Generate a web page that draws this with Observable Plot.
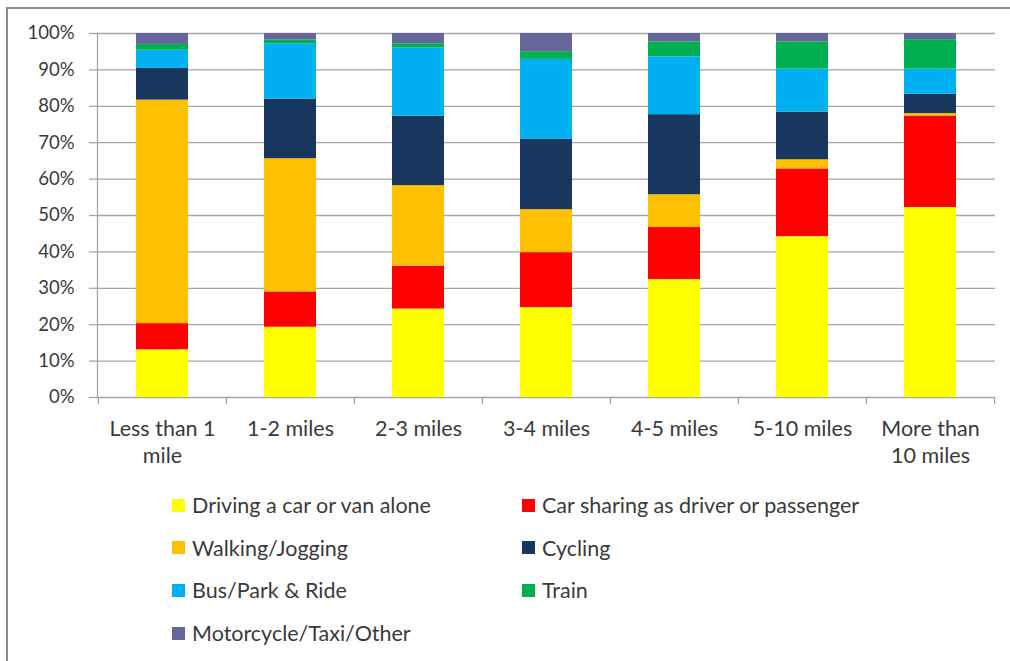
<!DOCTYPE html>
<html>
<head>
<meta charset="utf-8">
<script src="https://cdn.jsdelivr.net/npm/d3@7"></script>
<script src="https://cdn.jsdelivr.net/npm/@observablehq/plot@0.6"></script>
<style>
  html, body { margin: 0; padding: 0; background: #fff; overflow: hidden; }
  body { width: 1010px; height: 661px; position: relative; font-family: Lato, "Noto Sans", sans-serif; color: #3a3a3a; }
  #frame { position: absolute; left: 6px; top: 7px; width: 1020px; height: 670px; border: 2px solid #8c8c8c; box-sizing: border-box; z-index: 2; pointer-events: none; }
  #chart { position: absolute; left: 0; top: 0; z-index: 1; }
  #legend { position: absolute; left: 172px; top: 484px; display: grid; grid-template-columns: 350px 350px; grid-auto-rows: 42.6px; z-index: 1; }
  .item { display: flex; align-items: center; font-size: 21.5px; white-space: nowrap; }
  .sw { width: 13px; height: 13px; margin-right: 7px; flex: none; }
</style>
</head>
<body>
<div id="chart"></div>
<div id="legend"></div>
<div id="frame"></div>
<script>
// Distance travelled to work
const categories = ["Less than 1 mile", "1-2 miles", "2-3 miles", "3-4 miles", "4-5 miles", "5-10 miles", "More than 10 miles"];
const tickLabels = ["Less than 1\nmile", "1-2 miles", "2-3 miles", "3-4 miles", "4-5 miles", "5-10 miles", "More than\n10 miles"];

// Share of journeys by mode (%), one value per distance band
const driving   = [13.1, 19.3, 24.3, 24.7, 32.4, 44.2, 52.2];
const carShare  = [ 7.2,  9.7, 11.8, 15.1, 14.3, 18.6, 25.1];
const walking   = [61.4, 36.6, 22.1, 11.8,  9.0,  2.5,  0.7];
const cycling   = [ 8.7, 16.4, 19.1, 19.3, 22.0, 13.1,  5.3];
const bus       = [ 5.0, 15.2, 18.7, 22.0, 15.9, 11.8,  6.9];
const train     = [ 1.6,  1.0,  1.2,  2.1,  4.1,  7.5,  8.1];
const other     = [ 3.0,  1.8,  2.8,  5.0,  2.3,  2.3,  1.7];

const modes = ["Driving a car or van alone", "Car sharing as driver or passenger", "Walking/Jogging", "Cycling", "Bus/Park & Ride", "Train", "Motorcycle/Taxi/Other"];
const series = [driving, carShare, walking, cycling, bus, train, other];
const colors = ["#FFFF00", "#FF0000", "#FFC000", "#17375E", "#00B0F0", "#00B050", "#66669A"];

const yTicks = [0, 10, 20, 30, 40, 50, 60, 70, 80, 90, 100];

const rows = [];
categories.forEach((c, i) => {
  modes.forEach((m, j) => rows.push({distance: c, mode: m, share: series[j][i]}));
});

const width = 1010, height = 480;
const marginLeft = 97, marginRight = 15, marginTop = 33, marginBottom = 83;
const step = (width - marginLeft - marginRight) / categories.length;
const gridColor = "#a6a6a6";
const textColor = "#3a3a3a";

const chart = Plot.plot({
  width, height, marginLeft, marginRight, marginTop, marginBottom,
  style: {fontFamily: "Lato, 'Noto Sans', sans-serif", background: "none"},
  x: {domain: categories, paddingInner: 0.59, paddingOuter: 0.295, axis: null},
  y: {domain: [0, 100], axis: null},
  color: {domain: modes, range: colors},
  marks: [
    Plot.ruleY(yTicks, {stroke: gridColor, strokeWidth: 1.3}),
    Plot.barY(rows, {x: "distance", y: "share", fill: "mode", z: "mode"}),
    Plot.frame({anchor: "left", stroke: gridColor, strokeWidth: 1.3}),
    Plot.axisY(yTicks, {
      tickSize: 8, tickPadding: 15, tickFormat: d => d + "%",
      fontSize: 18.5, stroke: gridColor, fill: textColor, strokeWidth: 1.3, label: null
    }),
    // tick marks between distance bands
    Plot.axisX(categories, {tickSize: 7, tickFormat: () => "", dx: -step / 2, stroke: gridColor, strokeWidth: 1.3, label: null}),
    Plot.axisX([categories[categories.length - 1]], {tickSize: 7, tickFormat: () => "", dx: step / 2, stroke: gridColor, strokeWidth: 1.3, label: null}),
    Plot.axisX(categories, {
      tickSize: 0, tickPadding: 20, fontSize: 21.5, lineHeight: 1.24, fill: textColor, label: null,
      tickFormat: d => tickLabels[categories.indexOf(d)]
    })
  ]
});
document.getElementById("chart").append(chart);

const legend = d3.select("#legend");
modes.forEach((m, j) => {
  const item = legend.append("div").attr("class", "item");
  item.append("span").attr("class", "sw").style("background", colors[j]);
  item.append("span").text(m);
});
</script>
</body>
</html>
